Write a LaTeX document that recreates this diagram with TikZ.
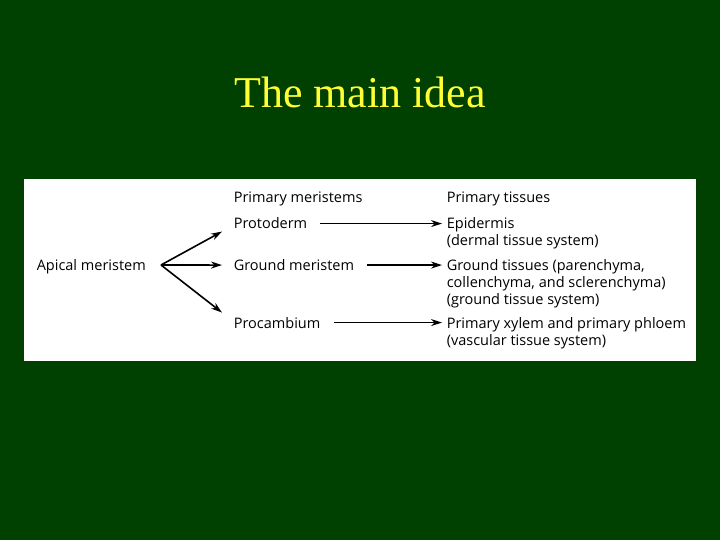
\documentclass[tikz,border=0pt]{standalone}
\usepackage{fontspec}
\setmainfont{Liberation Serif}
\newfontfamily\diagfont{Open Sans}
\usetikzlibrary{arrows.meta}
\definecolor{slidegreen}{RGB}{0,64,0}
\definecolor{titleyellow}{RGB}{255,255,51}

\begin{document}
\begin{tikzpicture}[x=1pt, y=-1pt, line width=1.6pt,
        font=\diagfont\fontsize{14.5}{16.7}\selectfont,
        lbl/.style={anchor=base west, inner sep=0pt, align=left},
        arr/.style={-{Stealth[length=11pt, width=7pt, inset=3.5pt]}}]
        \fill[slidegreen] (0,0) rectangle (720,540);
        \fill[white] (24,179) rectangle (696,361);

        \node[anchor=base, titleyellow, font=\rmfamily\fontsize{44}{50}\selectfont] (title) at (360,108) {The main idea};

        % left column
        \node[lbl] (apical) at (36,270.5) {Apical meristem};
        \coordinate (apex) at (161,265);

        % meristems
        \node[lbl] (primmer) at (233,203) {Primary meristems};
        \node[lbl] (proto) at (233,229) {Protoderm};
        \node[lbl] (groundmer) at (233,270.5) {Ground meristem};
        \node[lbl] (procamb) at (233,328) {Procambium};

        \draw[arr] (apex) -- ([xshift=-11pt, yshift=-8pt]proto.west);
        \draw[arr] (apex) -- ([xshift=-11pt]groundmer.west);
        \draw[arr] (apex) -- ([xshift=-11pt, yshift=10pt]procamb.west);

        % tissues (multi-line nodes sit on their last baseline)
        \node[lbl] (primtis) at (446,203) {Primary tissues};
        \node[lbl] (epid) at (446,245.5) {Epidermis\\(dermal tissue system)};
        \node[lbl] (groundtis) at (446,304) {Ground tissues (parenchyma,\\collenchyma, and sclerenchyma)\\(ground tissue system)};
        \node[lbl] (xylem) at (446,345.5) {Primary xylem and primary phloem\\(vascular tissue system)};

        \draw[arr, shorten <=12pt, shorten >=4pt] (proto.west -| proto.east) -- (proto.west -| epid.west);
        \draw[arr, shorten <=12pt, shorten >=4pt] (groundmer.west -| groundmer.east) -- (groundmer.west -| groundtis.west);
        \draw[arr, shorten <=13pt, shorten >=4pt] (procamb.west -| procamb.east) -- (procamb.west -| xylem.west);
\end{tikzpicture}
\end{document}
